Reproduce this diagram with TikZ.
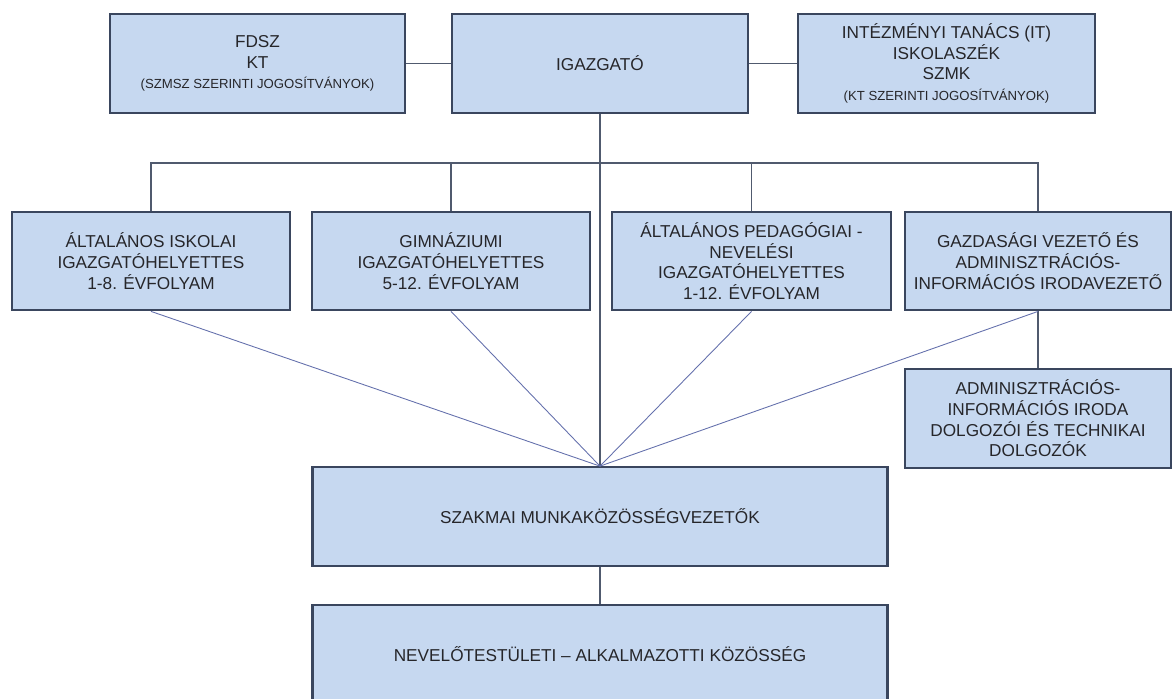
\documentclass[tikz,border=0pt]{standalone}
\usepackage{fontspec}
\setmainfont{Liberation Sans}
\usepackage{tikz}
\usetikzlibrary{positioning}
\definecolor{boxFill}{RGB}{198, 216, 240}
\definecolor{boxBorder}{RGB}{58, 70, 94}
\definecolor{textColor}{RGB}{38, 38, 42}
\definecolor{lineColor}{RGB}{80, 90, 110}
\definecolor{fanColor}{RGB}{100, 112, 172}
\tikzset{
    org_box/.style={
        draw=boxBorder,
        line width=1.3pt,
        fill=boxFill,
        text=textColor,
        align=center,
        minimum height=1.97cm,
        inner sep=2pt,
        font=\fontsize{9.8}{11.8}\selectfont
    },
    org_edge/.style={
        draw=lineColor,
        line width=0.6pt
    },
    fan_edge/.style={
        draw=fanColor,
        line width=0.5pt
    }
}
\newcommand{\rightsnote}[1]{{\fontsize{7.5}{9.5}\selectfont #1}}

\begin{document}
\begin{tikzpicture}[x=0.02cm, y=-0.02cm]
    \useasboundingbox (0,0) rectangle (1173,698);

    \node[org_box, minimum width=5.9cm] (fdsz) at (257.5,63.5)
        {FDSZ\\KT\\\rightsnote{(SZMSZ SZERINTI JOGOSÍTVÁNYOK)}};
    \node[org_box, minimum width=5.92cm] (igazgato) at (600,63.5) {IGAZGATÓ};
    \node[org_box, minimum width=5.94cm] (tanacs) at (946.5,63.5)
        {INTÉZMÉNYI TANÁCS (IT)\\ISKOLASZÉK\\SZMK\\\rightsnote{(KT SZERINTI JOGOSÍTVÁNYOK)}};

    \node[org_box, minimum width=5.56cm] (alt_isk) at (151,261)
        {ÁLTALÁNOS ISKOLAI\\IGAZGATÓHELYETTES\\1-8. ÉVFOLYAM};
    \node[org_box, minimum width=5.56cm] (gimn) at (451,261)
        {GIMNÁZIUMI\\IGAZGATÓHELYETTES\\5-12. ÉVFOLYAM};
    \node[org_box, minimum width=5.58cm] (pedag) at (751.5,261)
        {ÁLTALÁNOS PEDAGÓGIAI -\\NEVELÉSI\\IGAZGATÓHELYETTES\\1-12. ÉVFOLYAM};
    \node[org_box, minimum width=5.32cm] (gazd) at (1038,261)
        {GAZDASÁGI VEZETŐ ÉS\\ADMINISZTRÁCIÓS-\\INFORMÁCIÓS IRODAVEZETŐ};
    \node[org_box, minimum width=5.32cm] (admin) at (1038,418.5)
        {ADMINISZTRÁCIÓS-\\INFORMÁCIÓS IRODA\\DOLGOZÓI ÉS TECHNIKAI\\DOLGOZÓK};

    \node[org_box, minimum width=11.5cm] (szakmai) at (600,516.5)
        {SZAKMAI MUNKAKÖZÖSSÉGVEZETŐK};
    \node[org_box, minimum width=11.5cm] (nevelo) at (600,654.5)
        {NEVELŐTESTÜLETI – ALKALMAZOTTI KÖZÖSSÉG};

    % vezetői kapcsolatok
    \draw[org_edge] (fdsz) -- (igazgato);
    \draw[org_edge] (igazgato) -- (tanacs);
    \coordinate (bus) at (600,163);
    \draw[org_edge] (alt_isk.north) |- (bus) -| (gazd.north);
    \draw[org_edge] (gimn.north) -- (gimn.north |- bus);
    \draw[org_edge] (pedag.north) -- (pedag.north |- bus);
    \draw[org_edge] (igazgato.south) -- (szakmai.north);
    \draw[org_edge] (gazd.south) -- (admin.north);
    \draw[org_edge] (szakmai.south) -- (nevelo.north);

    \foreach \deputy in {alt_isk, gimn, pedag, gazd}
        \draw[fan_edge] (\deputy.south) -- (szakmai.north);
\end{tikzpicture}
\end{document}
